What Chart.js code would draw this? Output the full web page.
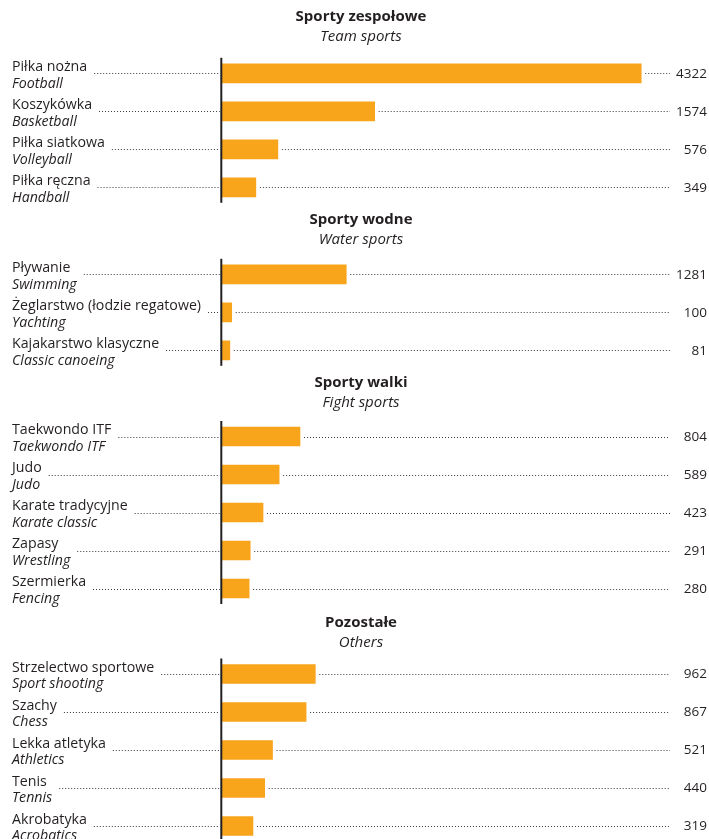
<!DOCTYPE html>
<html>
<head>
<meta charset="utf-8">
<script src="https://cdn.jsdelivr.net/npm/chart.js@4"></script>
<style>
  html, body { margin: 0; padding: 0; background: #fff; overflow: hidden; }
  body { width: 709px; height: 839px; position: relative; }
  .group { position: absolute; left: 0; width: 709px; }
</style>
</head>
<body>
<div class="group" id="g0"><canvas id="c0"></canvas></div>
<div class="group" id="g1"><canvas id="c1"></canvas></div>
<div class="group" id="g2"><canvas id="c2"></canvas></div>
<div class="group" id="g3"><canvas id="c3"></canvas></div>
<script>
// group headings
const groupTitles = ['Sporty zespołowe', 'Sporty wodne', 'Sporty walki', 'Pozostałe'];
const groupSubtitles = ['Team sports', 'Water sports', 'Fight sports', 'Others'];

// team sports
const teamPl = ['Piłka nożna', 'Koszykówka', 'Piłka siatkowa', 'Piłka ręczna'];
const teamEn = ['Football', 'Basketball', 'Volleyball', 'Handball'];
const teamValues = [4322, 1574, 576, 349];

// water sports
const waterPl = ['Pływanie', 'Żeglarstwo (łodzie regatowe)', 'Kajakarstwo klasyczne'];
const waterEn = ['Swimming', 'Yachting', 'Classic canoeing'];
const waterValues = [1281, 100, 81];

// fight sports
const fightPl = ['Taekwondo ITF', 'Judo', 'Karate tradycyjne', 'Zapasy', 'Szermierka'];
const fightEn = ['Taekwondo ITF', 'Judo', 'Karate classic', 'Wrestling', 'Fencing'];
const fightValues = [804, 589, 423, 291, 280];

// others
const otherPl = ['Strzelectwo sportowe', 'Szachy', 'Lekka atletyka', 'Tenis', 'Akrobatyka'];
const otherEn = ['Sport shooting', 'Chess', 'Athletics', 'Tennis', 'Acrobatics'];
const otherValues = [962, 867, 521, 440, 319];

const groups = [
  { pl: teamPl, en: teamEn, values: teamValues },
  { pl: waterPl, en: waterEn, values: waterValues },
  { pl: fightPl, en: fightEn, values: fightValues },
  { pl: otherPl, en: otherEn, values: otherValues }
];

// page layout: heading centre and first row centre of every block
const headingY = [17, 220, 383, 622.5];
const firstRowY = [73.3, 274.3, 436.5, 673.5];
const ROW = 38;
const BAR = 19;
const AXIS_X = 221.3;
const VALUE_X = 707;
const LEADER_END = 670;
const X_MAX = 4500;
const PAD_LEFT = 222;
const PAD_RIGHT = 709 - (PAD_LEFT + X_MAX * 0.097);

const INK = '#231f20';
const BAR_COLOR = '#f8a51c';
const FONT = '"Open Sans", "DejaVu Sans", sans-serif';
const LABEL_SIZE = '14.2px ';

function dotted(ctx, x1, x2, y) {
  if (x2 - x1 < 2) return;
  ctx.save();
  ctx.strokeStyle = '#3a3a3a';
  ctx.lineWidth = 1;
  ctx.setLineDash([1, 2]);
  ctx.beginPath();
  ctx.moveTo(x1, Math.round(y) + 0.5);
  ctx.lineTo(x2, Math.round(y) + 0.5);
  ctx.stroke();
  ctx.restore();
}

const annotate = {
  id: 'annotate',
  afterDatasetsDraw(chart, args, opts) {
    const ctx = chart.ctx;
    const area = chart.chartArea;
    const g = opts.group;
    const meta = chart.getDatasetMeta(0);

    ctx.save();
    ctx.fillStyle = INK;
    ctx.textAlign = 'center';
    ctx.textBaseline = 'middle';
    ctx.font = 'bold 15px ' + FONT;
    ctx.fillText(opts.title, 361, 17);
    ctx.font = 'italic 15px ' + FONT;
    ctx.fillText(opts.subtitle, 361, 37);

    // vertical axis line
    ctx.strokeStyle = INK;
    ctx.lineWidth = 2;
    ctx.beginPath();
    ctx.moveTo(AXIS_X, area.top + (ROW - BAR) / 2 - 6);
    ctx.lineTo(AXIS_X, area.bottom - (ROW - BAR) / 2 + 6);
    ctx.stroke();

    meta.data.forEach((bar, i) => {
      const y = bar.y;
      ctx.textAlign = 'left';
      ctx.textBaseline = 'alphabetic';
      ctx.font = LABEL_SIZE + FONT;
      const w1 = ctx.measureText(g.pl[i]).width;
      ctx.fillText(g.pl[i], 12, y - 2.3);
      ctx.font = 'italic ' + LABEL_SIZE + FONT;
      const w2 = ctx.measureText(g.en[i]).width;
      ctx.fillText(g.en[i], 12, y + 14.4);

      dotted(ctx, 12 + Math.max(w1, w2) + 7, AXIS_X - 1.5, y);
      dotted(ctx, bar.x + 4, LEADER_END, y);

      ctx.font = '13.5px ' + FONT;
      ctx.textAlign = 'right';
      ctx.textBaseline = 'middle';
      ctx.fillText(String(g.values[i]), VALUE_X, y + 0.5);
    });
    ctx.restore();
  }
};

groups.forEach((g, k) => {
  const top = headingY[k] - 17;
  const padTop = firstRowY[k] - ROW / 2 - top;
  const height = Math.ceil(padTop + g.values.length * ROW);
  const wrap = document.getElementById('g' + k);
  wrap.style.top = top + 'px';
  const canvas = document.getElementById('c' + k);
  canvas.width = 709;
  canvas.height = height;

  new Chart(canvas.getContext('2d'), {
    type: 'bar',
    data: {
      labels: g.pl,
      datasets: [{
        data: g.values,
        backgroundColor: BAR_COLOR,
        borderWidth: 0,
        barThickness: BAR
      }]
    },
    options: {
      indexAxis: 'y',
      responsive: false,
      animation: false,
      devicePixelRatio: 1,
      layout: {
        padding: { top: padTop, bottom: height - padTop - g.values.length * ROW, left: PAD_LEFT, right: PAD_RIGHT }
      },
      scales: {
        x: { display: false, min: 0, max: X_MAX },
        y: { display: false }
      },
      plugins: {
        legend: { display: false },
        tooltip: { enabled: false },
        title: { display: false },
        annotate: { group: g, title: groupTitles[k], subtitle: groupSubtitles[k] }
      }
    },
    plugins: [annotate]
  });
});
</script>
</body>
</html>
